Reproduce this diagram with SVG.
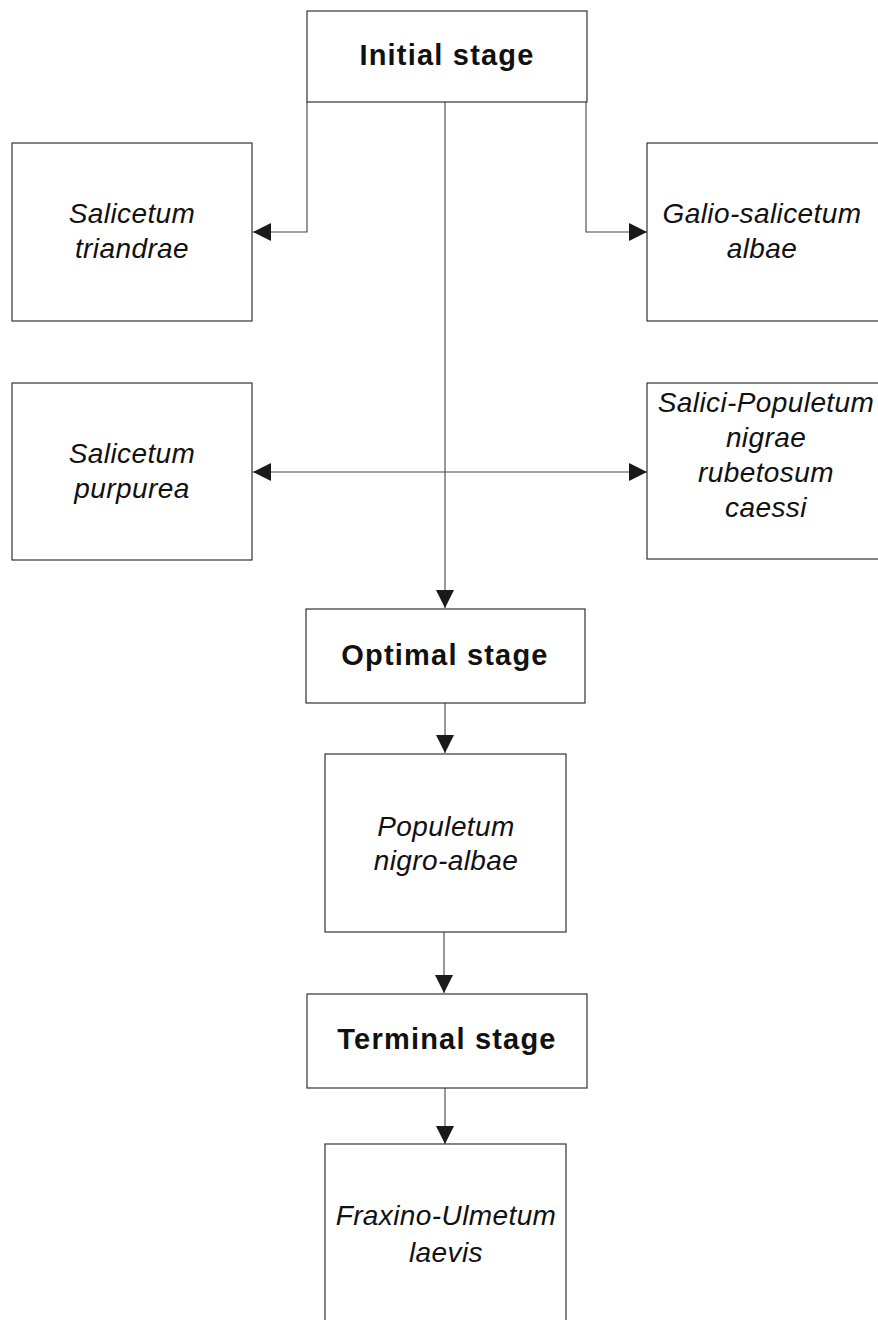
<svg xmlns="http://www.w3.org/2000/svg" width="878" height="1320" viewBox="0 0 878 1320">
<style>
.box{fill:#fff;stroke:#333;stroke-width:1.2}
.stage{font-family:"Liberation Sans",Arial,sans-serif;font-weight:bold;font-size:29px;letter-spacing:1.2px;fill:#111;text-anchor:middle}
.name{font-family:"Liberation Sans",Arial,sans-serif;font-style:italic;font-size:28px;letter-spacing:0.4px;fill:#111;text-anchor:middle}
.conn{fill:none;stroke:#444;stroke-width:1.1}
</style>
<defs>
<marker id="ah" viewBox="0 0 18 18" refX="18" refY="9" markerWidth="18" markerHeight="18" markerUnits="userSpaceOnUse" orient="auto-start-reverse">
<path d="M0,0 L18,9 L0,18 Z" fill="#1a1a1a"/>
</marker>
</defs>
<rect width="878" height="1320" fill="#fff"/>
<g id="connectors">
<path class="conn" d="M307,102 V232 H253" marker-end="url(#ah)"/>
<path class="conn" d="M586,102 V232 H647" marker-end="url(#ah)"/>
<path class="conn" d="M445,102 V608" marker-end="url(#ah)"/>
<path class="conn" d="M253,472 H647" marker-start="url(#ah)" marker-end="url(#ah)"/>
<path class="conn" d="M445,703 V753" marker-end="url(#ah)"/>
<path class="conn" d="M444,932 V993" marker-end="url(#ah)"/>
<path class="conn" d="M445,1088 V1144" marker-end="url(#ah)"/>
</g>
<g id="initial">
<rect class="box" x="307" y="11" width="280" height="91"/>
<text class="stage" x="447" y="65">Initial stage</text>
</g>
<g id="salicetum-triandrae">
<rect class="box" x="12" y="143" width="240" height="178"/>
<text class="name" x="132" y="223">Salicetum</text>
<text class="name" x="132" y="258">triandrae</text>
</g>
<g id="galio-salicetum">
<rect class="box" x="647" y="143" width="240" height="178"/>
<text class="name" x="762" y="223">Galio-salicetum</text>
<text class="name" x="762" y="258">albae</text>
</g>
<g id="salicetum-purpurea">
<rect class="box" x="12" y="383" width="240" height="177"/>
<text class="name" x="132" y="463">Salicetum</text>
<text class="name" x="132" y="498">purpurea</text>
</g>
<g id="salici-populetum">
<rect class="box" x="647" y="383" width="240" height="176"/>
<text class="name" x="766" y="412">Salici-Populetum</text>
<text class="name" x="766" y="447">nigrae</text>
<text class="name" x="766" y="482">rubetosum</text>
<text class="name" x="766" y="517">caessi</text>
</g>
<g id="optimal">
<rect class="box" x="306" y="609" width="279" height="94"/>
<text class="stage" x="445" y="665">Optimal stage</text>
</g>
<g id="populetum">
<rect class="box" x="325" y="754" width="241" height="178"/>
<text class="name" x="446" y="836">Populetum</text>
<text class="name" x="446" y="870">nigro-albae</text>
</g>
<g id="terminal">
<rect class="box" x="307" y="994" width="280" height="94"/>
<text class="stage" x="447" y="1049">Terminal stage</text>
</g>
<g id="fraxino-ulmetum">
<rect class="box" x="325" y="1144" width="241" height="200"/>
<text class="name" x="446" y="1225">Fraxino-Ulmetum</text>
<text class="name" x="446" y="1262">laevis</text>
</g>
</svg>
